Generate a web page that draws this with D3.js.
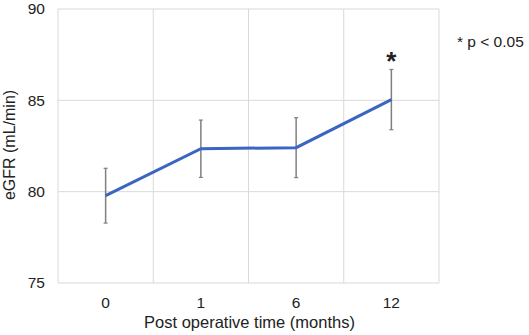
<!DOCTYPE html>
<html>
<head>
<meta charset="utf-8">
<script src="https://cdn.jsdelivr.net/npm/d3@7"></script>
<style>
  body { margin: 0; background: #fff; }
  text { font-family: "Liberation Sans", Arial, sans-serif; fill: #222; }
</style>
</head>
<body>
<div id="chart-area"></div>
<script>
var months = ["0", "1", "6", "12"];
var egfrMean = [79.78, 82.35, 82.41, 85.04];
var egfrSd = [1.5, 1.57, 1.64, 1.65];
var significant = [false, false, false, true];
var yTicks = [75, 80, 85, 90];

var margin = {left: 58, right: 90, top: 9, bottom: 52};
var width = 529 - margin.left - margin.right;
var height = 335 - margin.top - margin.bottom;

var svg = d3.select("#chart-area")
  .append("svg")
  .attr("width", 529)
  .attr("height", 335);

var g = svg.append("g")
  .attr("transform", "translate(" + margin.left + "," + margin.top + ")");

var xScale = d3.scaleBand().domain(months).range([0, width]);
var yScale = d3.scaleLinear().domain([75, 90]).range([height, 0]);

// gridlines
g.selectAll(".hgrid")
  .data(yTicks)
  .enter()
  .append("line")
  .attr("x1", 0)
  .attr("x2", width)
  .attr("y1", (d) => yScale(d))
  .attr("y2", (d) => yScale(d))
  .attr("stroke", "#d9d9d9")
  .attr("stroke-width", 1);

var vEdges = months.map((m) => xScale(m)).concat([width]);
g.selectAll(".vgrid")
  .data(vEdges)
  .enter()
  .append("line")
  .attr("x1", (d) => d)
  .attr("x2", (d) => d)
  .attr("y1", 0)
  .attr("y2", height)
  .attr("stroke", "#d9d9d9")
  .attr("stroke-width", 1);

// y axis labels
var yAxis = d3.axisLeft(yScale).tickValues(yTicks).tickSize(0).tickPadding(13);
var yAxisGroup = g.append("g").call(yAxis);
yAxisGroup.select(".domain").remove();
yAxisGroup.selectAll("text").style("font-size", "15.5px").attr("fill", "#222");

// x axis labels
var xAxis = d3.axisBottom(xScale).tickSize(0).tickPadding(14);
var xAxisGroup = g.append("g").attr("transform", "translate(0," + height + ")").call(xAxis);
xAxisGroup.select(".domain").remove();
xAxisGroup.selectAll("text").style("font-size", "15.5px").attr("fill", "#222");

var data = months.map((m, i) => ({month: m, mean: egfrMean[i], sd: egfrSd[i], sig: significant[i]}));
var cx = (d) => xScale(d.month) + xScale.bandwidth() / 2;

// error bars
var err = g.selectAll(".err").data(data).enter().append("g").attr("class", "err");
err.append("line")
  .attr("x1", cx).attr("x2", cx)
  .attr("y1", (d) => yScale(d.mean + d.sd))
  .attr("y2", (d) => yScale(d.mean - d.sd))
  .attr("stroke", "#7f7f7f").attr("stroke-width", 1.5);
err.append("line")
  .attr("x1", (d) => cx(d) - 2).attr("x2", (d) => cx(d) + 2)
  .attr("y1", (d) => yScale(d.mean + d.sd))
  .attr("y2", (d) => yScale(d.mean + d.sd))
  .attr("stroke", "#7f7f7f").attr("stroke-width", 1.2);
err.append("line")
  .attr("x1", (d) => cx(d) - 2).attr("x2", (d) => cx(d) + 2)
  .attr("y1", (d) => yScale(d.mean - d.sd))
  .attr("y2", (d) => yScale(d.mean - d.sd))
  .attr("stroke", "#7f7f7f").attr("stroke-width", 1.2);

// mean line
var line = d3.line().x(cx).y((d) => yScale(d.mean));
g.append("path")
  .datum(data)
  .attr("d", line)
  .attr("fill", "none")
  .attr("stroke", "#3a66c2")
  .attr("stroke-width", 3);

// significance marks
g.selectAll(".sig")
  .data(data.filter((d) => d.sig))
  .enter()
  .append("text")
  .attr("x", cx)
  .attr("y", (d) => yScale(d.mean + d.sd) + 1)
  .attr("text-anchor", "middle")
  .style("font-size", "26px")
  .style("font-weight", "bold")
  .text("*");

// axis titles
svg.append("text")
  .attr("x", margin.left + width / 2 + 1)
  .attr("y", 328)
  .attr("text-anchor", "middle")
  .style("font-size", "16.5px")
  .text("Post operative time (months)");

svg.append("text")
  .attr("transform", "rotate(-90)")
  .attr("x", -(margin.top + height / 2) + 1)
  .attr("y", 15)
  .attr("text-anchor", "middle")
  .style("font-size", "16px")
  .text("eGFR (mL/min)");

// legend note
svg.append("text")
  .attr("x", 457)
  .attr("y", 47)
  .style("font-size", "15.5px")
  .text("* p < 0.05");
</script>
</body>
</html>
